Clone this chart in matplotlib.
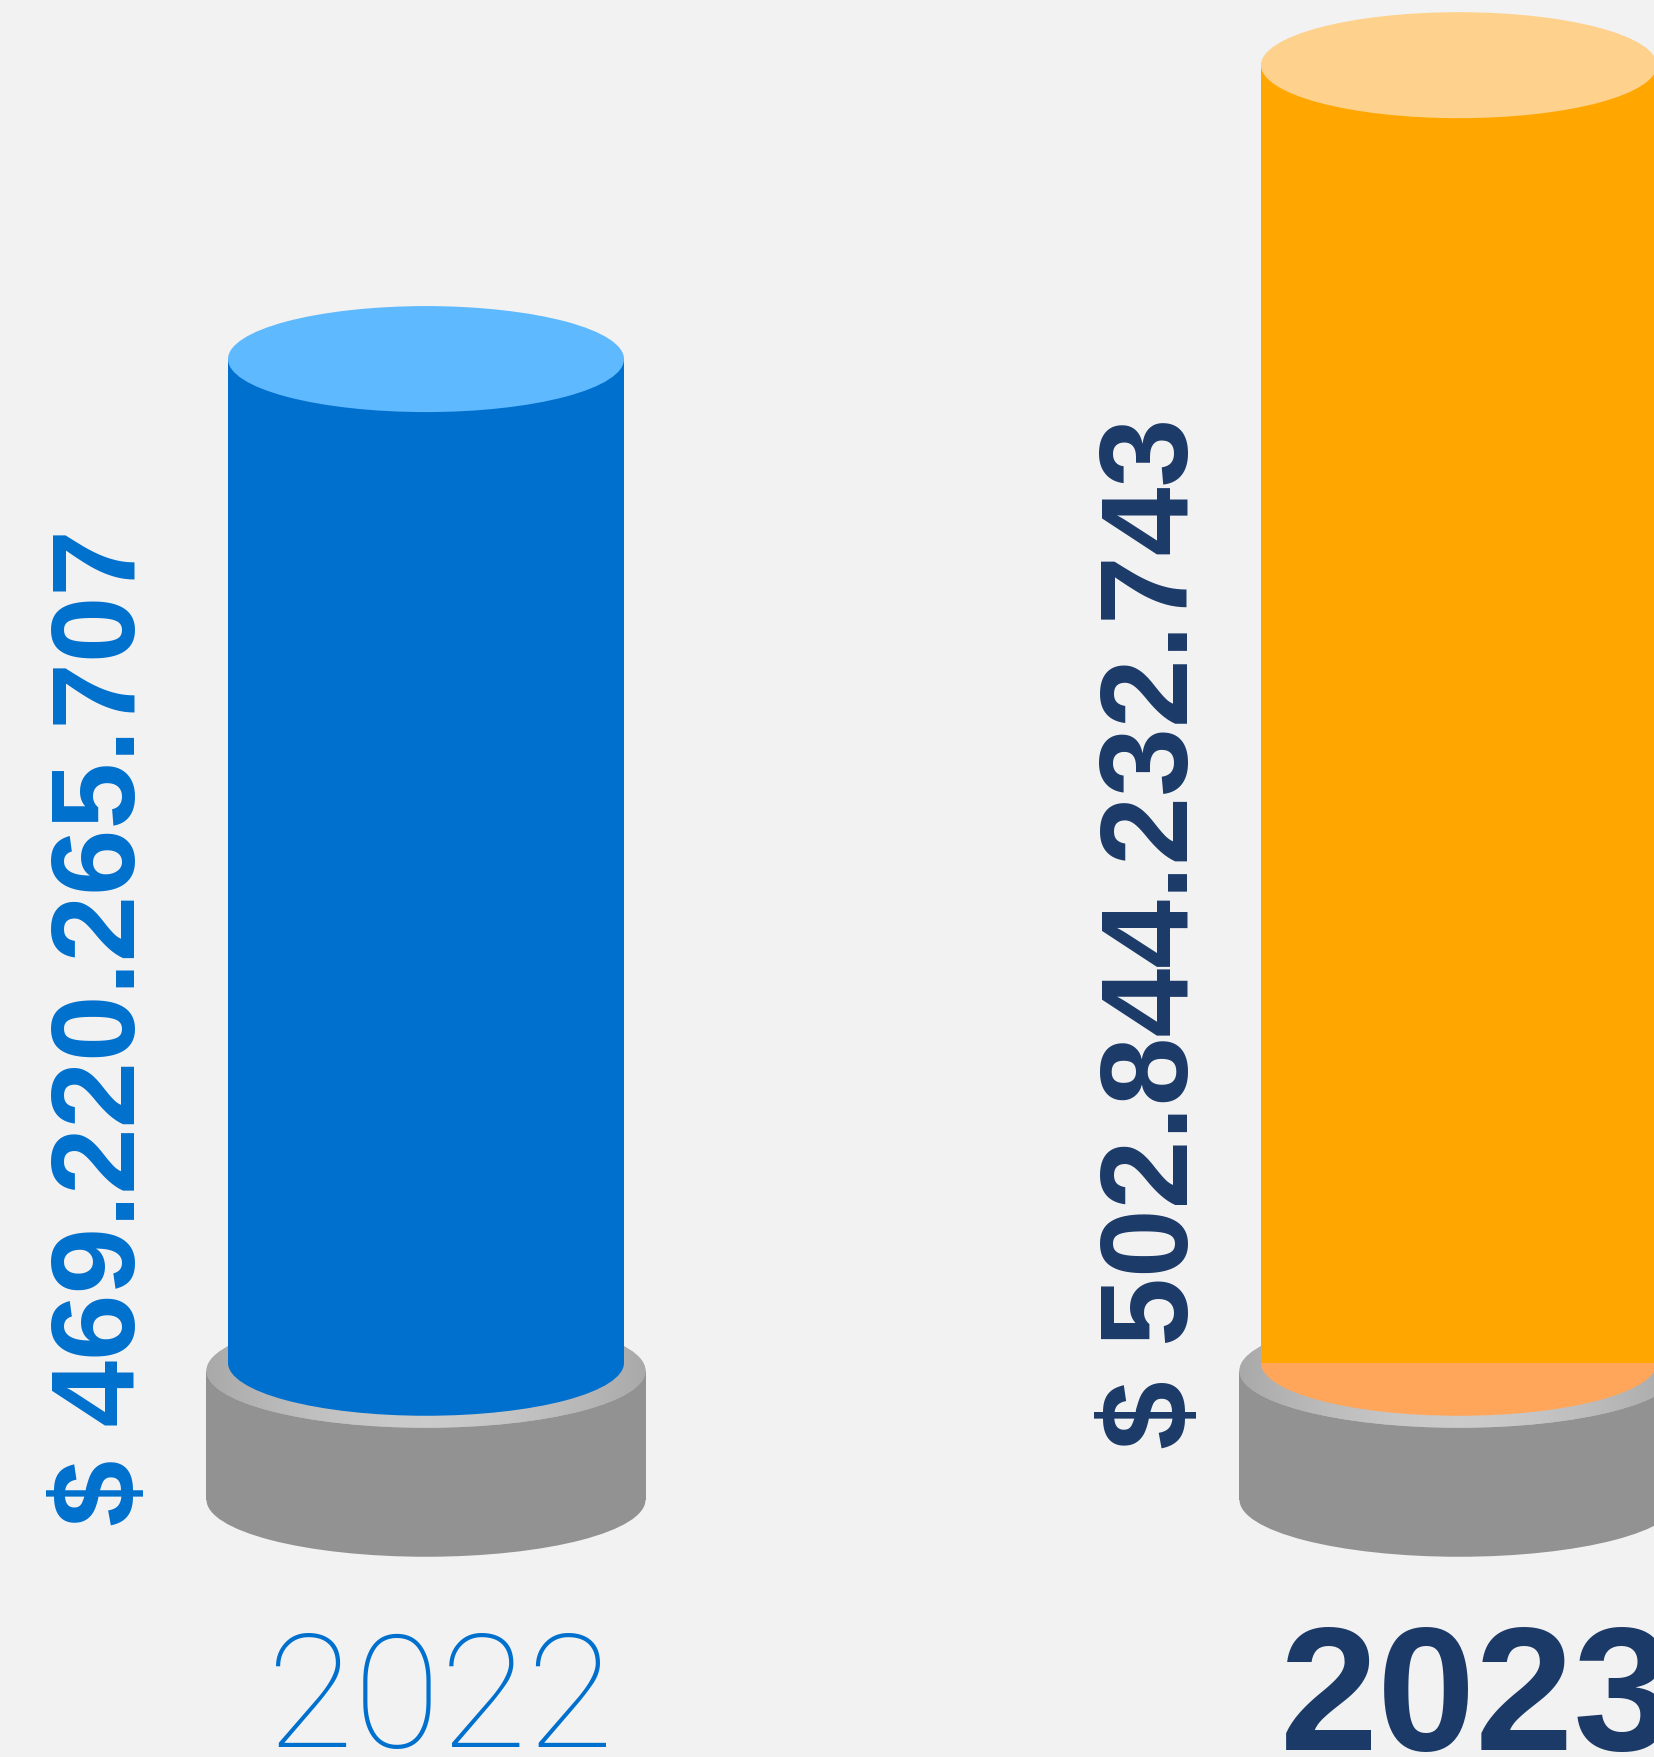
import matplotlib
matplotlib.use('Agg')
import matplotlib.pyplot as plt
from matplotlib.patches import Ellipse, Rectangle
from matplotlib.colors import LinearSegmentedColormap
import numpy as np

# ---- data ----
years = ['2022', '2023']
values = [469220265707, 502844232743]
labels = ['$ 469.220.265.707', '$ 502.844.232.743']
body_colors = ['#0070CE', '#FFA600']
top_colors = ['#5EB9FF', '#FED28C']
bottom_colors = ['#0070CE', '#FFA65A']
text_colors = ['#0070CE', '#1B3A68']

W, H = 1654, 1757
fig = plt.figure(figsize=(W / 100, H / 100), dpi=100)
fig.patch.set_facecolor('#F2F2F2')
ax = fig.add_axes([0, 0, 1, 1])
ax.set_facecolor('none')
ax.axis('off')

vals = np.array(values) / 1e9
baseline = 354.4
ylo, yhi = 309.3, 510.3
ax.set_xlim(-0.4124, 1.1888)
ax.set_ylim(ylo, yhi)
ppu = H / (yhi - ylo)

bar_w = 0.3834
cap_h = 2 * 53 / ppu
base_w = 0.425
base_h = 2 * 57 / ppu
base_top = baseline - 8 / ppu
base_bot = baseline - 137 / ppu

grad_cmap = LinearSegmentedColormap.from_list('g', ['#A9A9A9', '#CBCBCB'])
t = np.linspace(-1, 1, 400)
grad = (1 - np.abs(t) ** 1.6)[None, :]

for i, v in enumerate(vals):
    # pedestal
    ax.add_patch(Ellipse((i, base_bot), base_w, base_h, color='#929292', lw=0, zorder=1))
    ax.add_patch(Rectangle((i - base_w / 2, base_bot), base_w, base_top - base_bot,
                           color='#929292', lw=0, zorder=1))
    top_e = Ellipse((i, base_top), base_w, base_h, facecolor='#BBBBBB', lw=0, zorder=2)
    ax.add_patch(top_e)
    im = ax.imshow(grad, extent=[i - base_w / 2, i + base_w / 2,
                                 base_top - base_h / 2, base_top + base_h / 2],
                   aspect='auto', cmap=grad_cmap, vmin=0, vmax=1, zorder=2.5,
                   interpolation='bilinear')
    im.set_clip_path(top_e)
    # cylinder
    ax.add_patch(Ellipse((i, baseline), bar_w, cap_h, color=bottom_colors[i], lw=0, zorder=3))
    ax.bar(i, v - baseline, bottom=baseline, width=bar_w, color=body_colors[i],
           lw=0, zorder=4)
    ax.add_patch(Ellipse((i, v), bar_w, cap_h, color=top_colors[i], lw=0, zorder=5))

ax.set_xlim(-0.4124, 1.1888)
ax.set_ylim(ylo, yhi)

# value labels
label_pos = [(105 / W, 1 - 1028 / H), (1156 / W, 1 - 933 / H)]
label_sizes = [86, 89]
for i, lab in enumerate(labels):
    fig.text(label_pos[i][0], label_pos[i][1], lab, rotation=90, ha='center', va='center',
             fontsize=label_sizes[i], fontweight='bold', color=text_colors[i],
             family=['Liberation Sans', 'DejaVu Sans'])

# year labels
fig.text(440 / W, 1 - 1747 / H, years[0], ha='center', va='baseline', fontsize=114,
         fontweight=100, color=text_colors[0], family=['Roboto', 'DejaVu Sans'])
fig.text(1280 / W, 1 - 1750 / H, years[1], ha='left', va='baseline', fontsize=127,
         fontweight='bold', color=text_colors[1], family=['Liberation Sans', 'DejaVu Sans'])

fig.savefig('out.png', dpi=100, facecolor=fig.get_facecolor())
